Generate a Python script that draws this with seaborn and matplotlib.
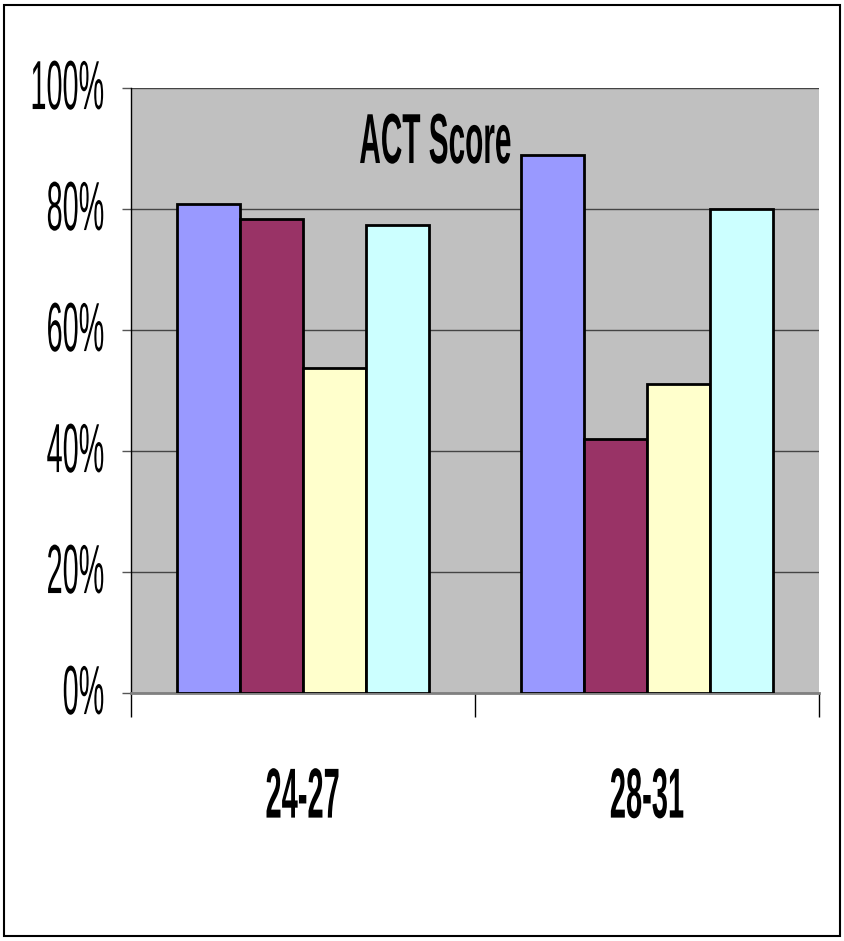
import matplotlib
matplotlib.use("Agg")
import matplotlib.pyplot as plt
import seaborn as sns
import pandas as pd
from matplotlib.patches import Rectangle
from matplotlib.patheffects import AbstractPathEffect
from matplotlib.transforms import Affine2D, ScaledTranslation
from matplotlib.ticker import FixedLocator, PercentFormatter

# Data
categories = ["24-27", "28-31"]
series = ["Series 1", "Series 2", "Series 3", "Series 4"]
values_2427 = [80.8, 78.3, 53.7, 77.4]
values_2831 = [89.0, 42.0, 51.0, 80.0]
colors = ["#9999FF", "#993366", "#FFFFCC", "#CCFFFF"]

rows = []
for cat, vals in zip(categories, [values_2427, values_2831]):
    for s, v in zip(series, vals):
        rows.append({"Range": cat, "Series": s, "Value": v})
df = pd.DataFrame(rows)


class Narrow(AbstractPathEffect):
    """Squeeze text horizontally (the original uses a tall, narrow face)."""

    def __init__(self, sx, anchor="center"):
        super().__init__()
        self.sx = sx
        self.anchor = anchor

    def draw_path(self, renderer, gc, tpath, affine, rgbFace=None):
        ext = tpath.get_extents(affine)
        cx = {"left": ext.x0, "right": ext.x1}.get(self.anchor, (ext.x0 + ext.x1) / 2)
        t = affine + Affine2D().translate(-cx, 0).scale(self.sx, 1).translate(cx, 0)
        renderer.draw_path(gc, tpath, t, rgbFace)


sns.set_style("white")
plt.rcParams["font.family"] = ["Liberation Sans", "DejaVu Sans"]
plt.rcParams["text.color"] = "black"
plt.rcParams["xtick.color"] = "black"
plt.rcParams["ytick.color"] = "black"

fig = plt.figure(figsize=(8.44, 9.41), dpi=100)
ax = fig.add_axes([131 / 844, 1 - 693 / 941, 688 / 844, 605 / 941])
ax.set_facecolor("#C0C0C0")

sns.barplot(data=df, x="Range", y="Value", hue="Series", palette=colors,
            width=0.73, edgecolor="black", linewidth=2, saturation=1,
            legend=False, ax=ax, zorder=3)

ax.set_ylim(0, 100)
ax.set_xlim(-0.5, 1.5)
ax.yaxis.set_major_locator(FixedLocator([0, 20, 40, 60, 80, 100]))
ax.yaxis.set_major_formatter(PercentFormatter(decimals=0))
ax.grid(axis="y", color="#444444", linewidth=1, zorder=1)
ax.set_axisbelow(True)

for side in ["top", "right"]:
    ax.spines[side].set_visible(False)
ax.spines["left"].set_color("black")
ax.spines["left"].set_linewidth(1)
ax.spines["bottom"].set_color("#808080")
ax.spines["bottom"].set_linewidth(2)

ax.tick_params(axis="y", which="major", left=True, length=6.5, width=1,
               color="#555555", pad=11.5, labelsize=50)
shift = ScaledTranslation(0, -2.2 / 72, fig.dpi_scale_trans)
for lab in ax.get_yticklabels():
    lab.set_verticalalignment("center")
    lab.set_transform(lab.get_transform() + shift)
    lab.set_path_effects([Narrow(0.415, "right")])

ax.set_xticks([0, 1])
ax.set_xticklabels(categories, fontsize=51, fontweight="bold")
ax.tick_params(axis="x", which="major", bottom=False, length=0, pad=53)
for lab in ax.get_xticklabels():
    lab.set_path_effects([Narrow(0.41, "center")])
ax.set_xticks([-0.5, 0.5, 1.5], minor=True)
ax.tick_params(axis="x", which="minor", bottom=True, length=17, width=1,
               color="black")
ax.set_xlabel("")
ax.set_ylabel("")

title = ax.text(0.4426, 0.876, "ACT Score", transform=ax.transAxes,
                ha="center", va="baseline", fontsize=51, fontweight="bold",
                zorder=5)
title.set_path_effects([Narrow(0.42, "center")])

fig.patches.append(Rectangle((4 / 844, 5 / 941), 836 / 844, 931 / 941,
                             transform=fig.transFigure, fill=False,
                             edgecolor="black", linewidth=1.5))

fig.savefig("out.png", dpi=100)
